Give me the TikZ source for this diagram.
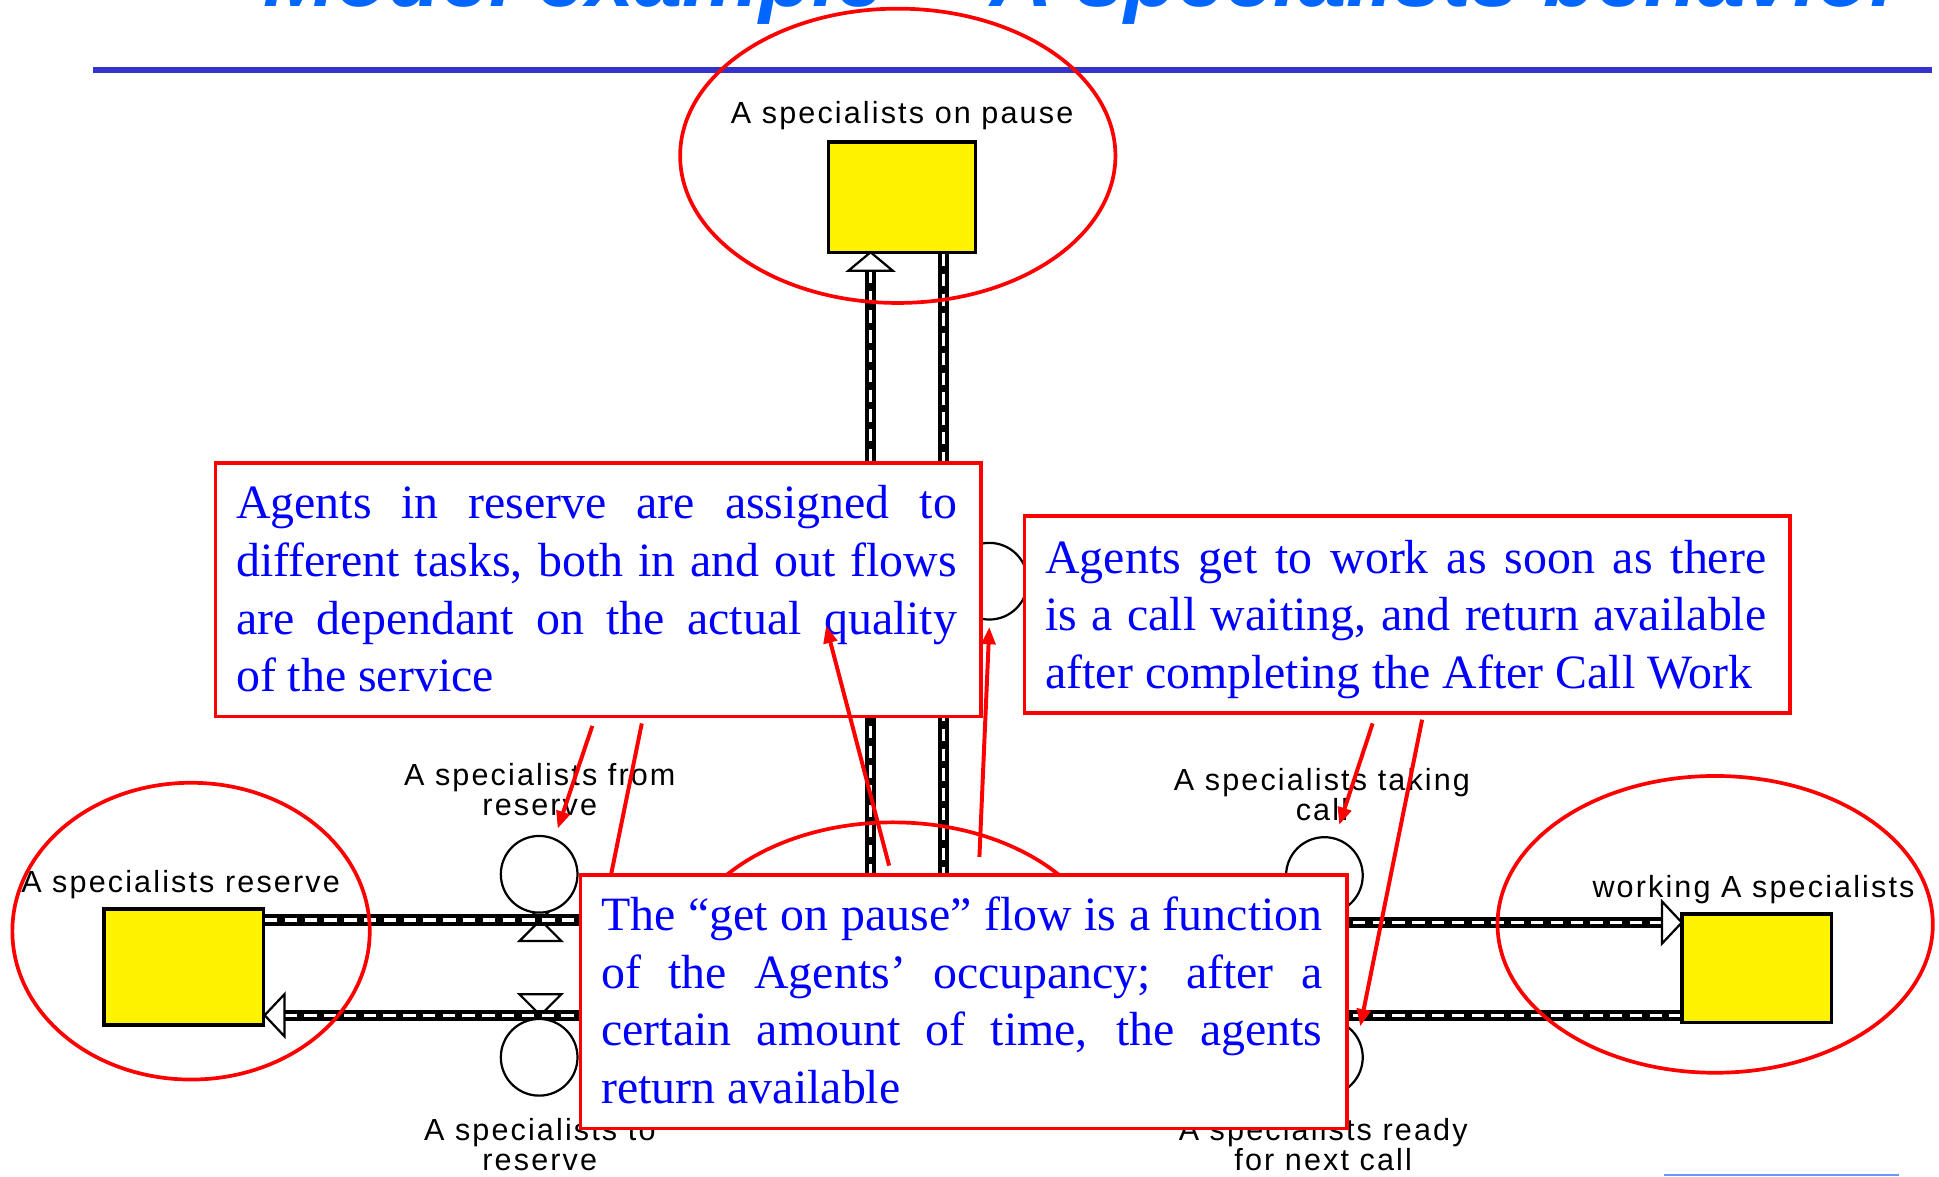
\documentclass[tikz,border=0pt]{standalone}
\usepackage{fontspec}
\setmainfont{Liberation Serif}
\newfontfamily\titlefont{Liberation Sans}
\newfontfamily\vfont[LetterSpace=7]{Liberation Sans}
\usetikzlibrary{arrows.meta}
\definecolor{titleblue}{RGB}{0,102,255}
\definecolor{rulerblue}{RGB}{51,51,204}
\definecolor{lightblue}{RGB}{102,153,255}
\begin{document}
\begin{tikzpicture}[x=0.5pt,y=-0.5pt,
  stock/.style={rectangle, draw=black, line width=1.4pt, fill=yellow, inner sep=0pt},
  valvecirc/.style={circle, draw=black, line width=0.9pt, fill=white, minimum size=31pt, inner sep=0pt},
  valveline/.style={draw=black, line width=0.9pt},
  hollowtip/.style={draw=black, line width=0.9pt, fill=white},
  flowpipe/.style={draw=black, line width=4.5pt, postaction={draw=white, line width=1.3pt, dash pattern=on 5pt off 3pt}},
  vlabel/.style={font=\vfont\fontsize{12.35}{12}\selectfont, align=center, inner sep=0pt, anchor=north, text=black},
  ring/.style={draw=red, line width=1.5pt},
  notebox/.style={rectangle, draw=red, line width=1.4pt, fill=white, inner sep=0pt, anchor=north west},
  notetext/.style={font=\fontsize{19.35}{23.35}\selectfont, text=blue, text width=291.5pt, align=justify, inner sep=0pt, anchor=north west},
  callout/.style={draw=red, line width=1.6pt, -{Triangle[length=7pt,width=5.5pt]}},
  calloutplain/.style={draw=red, line width=1.6pt},
  hourglass/.pic={\draw[valveline] (-17,-17) -- (17,17) -- (-17,17) -- (17,-17) -- cycle;}
]
\useasboundingbox (0,0) rectangle (1568,951);
\clip (0,0) rectangle (1568,951);

% title and rule
\node[anchor=base west, inner sep=0pt, text=titleblue, font=\titlefont\bfseries\itshape\fontsize{35}{42}\selectfont] (title) at (213,5) {Model example -- A specialists behavior};
\draw[rulerblue, line width=2.7pt] (75,56.5) -- (1562,56.5);
\draw[lightblue, line width=0.8pt] (1346,950) -- (1536,950);

% stocks
\node[stock, minimum width=59.5pt, minimum height=44.5pt] (pause) at (729.5,159.5) {};
\node[stock, minimum width=64.5pt, minimum height=47pt] (reserve) at (148.5,782) {};
\node[stock, minimum width=60.5pt, minimum height=44pt] (working) at (1420.5,783) {};

% hidden ends of pipes (under the bottom note)
\coordinate (hubL1) at (530,744);
\coordinate (hubL2) at (530,821);
\coordinate (hubR1) at (1030,746);
\coordinate (hubR2) at (1030,821);
\coordinate (hubV1) at (704,745);
\coordinate (hubV2) at (763,745);
\coordinate (tipTop) at (704,219);
\coordinate (tipLeft) at (230,821);
\coordinate (tipRight) at (1344,746);

% valves
\coordinate (vfrom) at (437,744);
\coordinate (vto) at (437,821);
\coordinate (vtake) at (1071,746);
\coordinate (vready) at (1071,821);
\pic at (vfrom) {hourglass};
\pic at (vto) {hourglass};
\pic at (vtake) {hourglass};
\pic at (vready) {hourglass};

% pipes
\draw[flowpipe] (tipTop) -- (hubV1);
\draw[flowpipe] (pause.south -| hubV2) -- (hubV2);
\draw[flowpipe] (reserve.east |- hubL1) -- (hubL1);
\draw[flowpipe] (tipLeft) -- (hubL2);
\draw[flowpipe] (hubR1) -- (tipRight);
\draw[flowpipe] (hubR2) -- (working.west |- hubR2);

% hollow arrowheads into stocks
\draw[hollowtip] (704,204) -- (686,219) -- (722,219) -- cycle;
\draw[hollowtip] (214,821) -- (230,804) -- (230,838) -- cycle;
\draw[hollowtip] (1360,746) -- (1344,729) -- (1344,763) -- cycle;

% flow circles
\node[valvecirc] (cfrom) at (436,707) {};
\node[valvecirc] (cto) at (436,855) {};
\node[valvecirc] (ctake) at (1071,708) {};
\node[valvecirc] (cready) at (1071,855) {};
\node[valvecirc] (cpause) at (800,470) {};

% labels
\node[vlabel] (lpause) at (729.5,79.7) {\rule{0pt}{10pt}A specialists on pause};
\node[vlabel] (lreserve) at (146,701) {\rule{0pt}{10pt}A specialists reserve};
\node[vlabel] (lfrom) at (436.5,615) {\rule{0pt}{10pt}A specialists from\\reserve};
\node[vlabel] (lto) at (436.5,902) {\rule{0pt}{10pt}A specialists to\\reserve};
\node[vlabel] (ltake) at (1069,619) {\rule{0pt}{10pt}A specialists taking\\call};
\node[vlabel] (lready) at (1070,902) {\rule{0pt}{10pt}A specialists ready\\for next call};
\node[vlabel] (lworking) at (1418,705) {\rule{0pt}{10pt}working A specialists};

% red rings
\draw[ring] (726,126) ellipse [x radius=176, y radius=119];
\draw[ring] (154.5,753) ellipse [x radius=144.5, y radius=120];
\draw[ring] (1387,747.5) ellipse [x radius=176, y radius=120];
\draw[ring] (722,785) ellipse [x radius=176, y radius=120];

% callout endpoints
\coordinate (a1s) at (479,587);
\coordinate (a1e) at (451,670);
\coordinate (a2s) at (519,585);
\coordinate (a2e) at (494,708);
\coordinate (a3s) at (719,700);
\coordinate (a3e) at (668,506);
\coordinate (a4s) at (792,693);
\coordinate (a4e) at (800,507);
\coordinate (a5s) at (1110,585);
\coordinate (a5e) at (1083,667);
\coordinate (a6s) at (1150,582);
\coordinate (a6e) at (1100,830);

\draw[calloutplain] (a2s) -- (a2e);

% note boxes
\node[notebox, minimum width=309.5pt, minimum height=102.5pt] (boxA) at (173,373) {};
\node[notetext] (textA) at (190.5,383) {\tolerance=9999\hyphenpenalty=10000\noindent\rule{0pt}{18pt}Agents in reserve are assigned to\linebreak different tasks, both in and out flows\linebreak are dependant on the actual quality\linebreak of the service};
\node[notebox, minimum width=309.5pt, minimum height=79.5pt] (boxB) at (827,416) {};
\node[notetext] (textB) at (845,427) {\tolerance=9999\hyphenpenalty=10000\noindent\rule{0pt}{18pt}Agents get to work as soon as there\linebreak is a call waiting, and return available\linebreak after completing the After Call Work};
\node[notebox, minimum width=310pt, minimum height=102.5pt] (boxC) at (468,706) {};
\node[notetext] (textC) at (486,716) {\tolerance=9999\hyphenpenalty=10000\noindent\rule{0pt}{18pt}The “get on pause” flow is a function\linebreak of the Agents’ occupancy; after a\linebreak certain amount of time, the agents\linebreak return available};

% callout arrows
\draw[callout] (a1s) -- (a1e);
\draw[callout] (a3s) -- (a3e);
\draw[callout] (a4s) -- (a4e);
\draw[callout] (a5s) -- (a5e);
\draw[callout] (a6s) -- (a6e);
\end{tikzpicture}
\end{document}
